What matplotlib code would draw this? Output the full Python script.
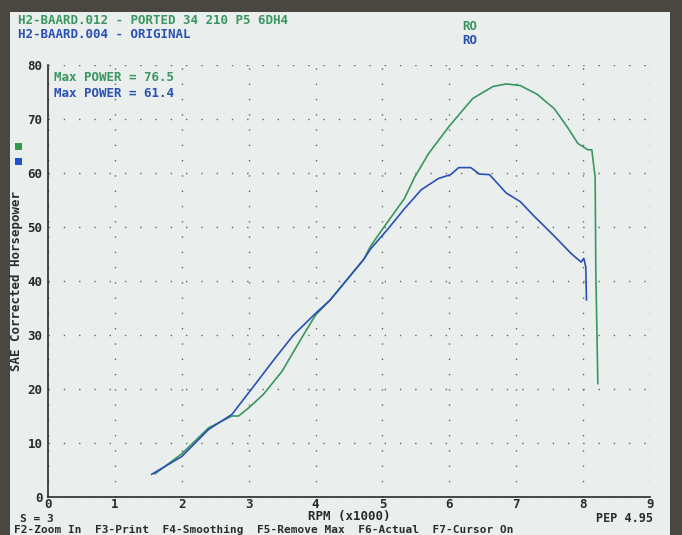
import matplotlib.pyplot as plt
from matplotlib.patches import Rectangle

# dyno run data (rpm x1000, SAE hp)
ported_rpm = [1.60, 2.00, 2.40, 2.75, 2.85, 3.00, 3.22, 3.50, 3.77, 4.00, 4.22, 4.72,
              4.82, 5.00, 5.33, 5.48, 5.69, 6.00, 6.35, 6.65, 6.85, 7.06, 7.31, 7.57,
              7.77, 7.92, 8.07, 8.13, 8.18, 8.19, 8.22]
ported_hp = [4.3, 8.0, 12.8, 15.0, 15.0, 16.5, 19.0, 23.3, 29.0, 33.7, 36.5, 44.0,
             46.4, 49.6, 55.3, 59.2, 63.6, 68.7, 73.8, 76.0, 76.5, 76.2, 74.6, 71.9,
             68.4, 65.5, 64.3, 64.3, 59.2, 42.0, 21.0]

orig_rpm = [1.55, 2.00, 2.40, 2.75, 3.00, 3.37, 3.67, 4.00, 4.22, 4.72, 4.82, 5.08,
            5.33, 5.58, 5.84, 6.02, 6.14, 6.32, 6.45, 6.60, 6.85, 7.06, 7.26, 7.57,
            7.82, 7.97, 8.01, 8.04, 8.05]
orig_hp = [4.2, 7.5, 12.5, 15.3, 19.3, 25.3, 30.0, 34.0, 36.5, 44.0, 45.9, 49.6,
           53.4, 56.9, 59.0, 59.7, 61.0, 61.0, 59.8, 59.7, 56.3, 54.7, 52.1, 48.3,
           45.1, 43.5, 44.2, 42.6, 36.5]

GREEN = '#3a9660'
BLUE = '#2a4fb5'
INK = '#2b2b2b'
mono = 'DejaVu Sans Mono'

fig = plt.figure(figsize=(6.82, 5.35), dpi=100, facecolor='#4a4640')
# the screen itself, kept behind the axes
screen = Rectangle((10 / 682, 0), 660 / 682, 1 - 12 / 535,
                   transform=fig.transFigure, facecolor='#eaefed',
                   edgecolor='none', zorder=-10)
fig.patches.append(screen)

ax = fig.add_axes([48 / 682, 1 - 497 / 535, 602 / 682, 432 / 535])
ax.set_facecolor('none')
ax.plot(ported_rpm, ported_hp, color=GREEN, lw=1.2)
ax.plot(orig_rpm, orig_hp, color=BLUE, lw=1.2)

ax.set_xlim(0, 9)
ax.set_ylim(0, 80)
ax.set_xticks(range(0, 10))
ax.set_yticks(range(0, 90, 10))
ax.grid(True, color='#666666', linestyle=(0, (1, 10)), linewidth=1.0)
for s in ['top', 'right']:
    ax.spines[s].set_visible(False)
for s in ['left', 'bottom']:
    ax.spines[s].set_color(INK)
    ax.spines[s].set_linewidth(1.2)
ax.tick_params(length=0, labelsize=9, labelcolor=INK)
ax.tick_params(axis='x', pad=1)
ax.tick_params(axis='y', pad=4)
for lab in ax.get_xticklabels() + ax.get_yticklabels():
    lab.set_fontfamily(mono)
    lab.set_fontweight('bold')

ax.set_ylabel('SAE Corrected Horsepower', fontfamily=mono, fontweight='bold',
              fontsize=9, color=INK, labelpad=3)
ax.set_xlabel('RPM (x1000)', fontfamily=mono, fontweight='bold', fontsize=9,
              color=INK, labelpad=-1)

ax.text(0.01, 0.985, 'Max POWER = 76.5', transform=ax.transAxes, color=GREEN,
        fontfamily=mono, fontweight='bold', fontsize=9, va='top')
ax.text(0.01, 0.948, 'Max POWER = 61.4', transform=ax.transAxes, color=BLUE,
        fontfamily=mono, fontweight='bold', fontsize=9, va='top')

def ftext(x, y, s, c=INK, size=9, **kw):
    fig.text(x / 682, 1 - y / 535, s, color=c, fontfamily=mono, fontweight='bold',
             fontsize=size, va='center', **kw)

ftext(18, 20, 'H2-BAARD.012 - PORTED 34 210 P5 6DH4', GREEN)
ftext(18, 34, 'H2-BAARD.004 - ORIGINAL', BLUE)
ftext(462, 26, 'RO', GREEN)
ftext(462, 40, 'RO', BLUE)
ftext(596, 519, 'PEP 4.95', size=8.5)
ftext(20, 519, 'S = 3', size=8)
ftext(14, 529.5, 'F2-Zoom In  F3-Print  F4-Smoothing  F5-Remove Max  F6-Actual  F7-Cursor On',
      size=8)

# colour keys next to the y label
fig.patches.append(Rectangle((15 / 682, 1 - 150 / 535), 7 / 682, 7 / 535,
                             transform=fig.transFigure, facecolor='#2f9a4a', zorder=3))
fig.patches.append(Rectangle((15 / 682, 1 - 165 / 535), 7 / 682, 7 / 535,
                             transform=fig.transFigure, facecolor='#2050d0', zorder=3))

fig.savefig('out.png', dpi=100, facecolor=fig.get_facecolor())
